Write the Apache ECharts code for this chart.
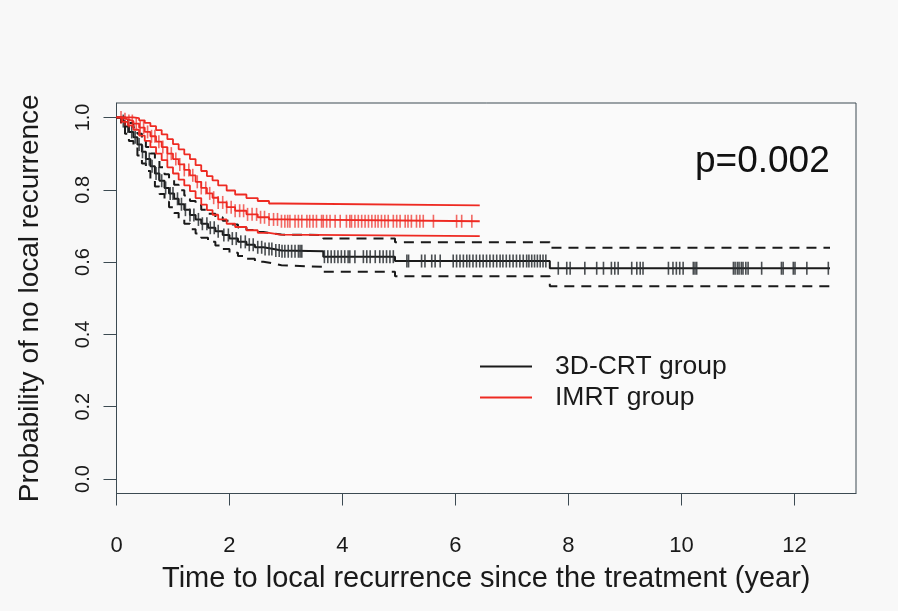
<!DOCTYPE html>
<html>
<head>
<meta charset="utf-8">
<script src="https://cdn.jsdelivr.net/npm/echarts@6/dist/echarts.min.js"></script>
<style>
  html, body { margin: 0; padding: 0; background: #f8f8f8; }
  #chart { width: 898px; height: 611px; }
</style>
</head>
<body>
<div id="chart"></div>
<script>
// Kaplan-Meier estimates of local-recurrence-free probability by treatment group

// 3D-CRT group: step times (years), survival estimate and 95% band
const crtTime  = [0, 0.08, 0.15, 0.22, 0.30, 0.37, 0.45, 0.52, 0.60, 0.68, 0.76, 0.85, 0.93, 1.02, 1.10, 1.20, 1.30, 1.40, 1.50, 1.62, 1.75, 1.88, 2.00, 2.15, 2.30, 2.45, 2.60, 2.78, 2.92, 3.66, 4.93, 7.67, 12.63];
const crtSurv  = [1.000, 0.990, 0.975, 0.960, 0.945, 0.925, 0.905, 0.885, 0.865, 0.845, 0.825, 0.805, 0.790, 0.775, 0.760, 0.745, 0.730, 0.718, 0.706, 0.695, 0.685, 0.675, 0.665, 0.656, 0.648, 0.641, 0.636, 0.632, 0.630, 0.615, 0.603, 0.583, 0.583];
const crtUpper = [1.000, 1.000, 0.995, 0.985, 0.972, 0.955, 0.937, 0.918, 0.900, 0.881, 0.862, 0.843, 0.828, 0.814, 0.799, 0.784, 0.769, 0.757, 0.745, 0.734, 0.724, 0.714, 0.704, 0.696, 0.689, 0.683, 0.679, 0.676, 0.675, 0.665, 0.655, 0.640, 0.640];
const crtLower = [1.000, 0.975, 0.955, 0.935, 0.917, 0.895, 0.873, 0.852, 0.830, 0.809, 0.788, 0.767, 0.752, 0.736, 0.721, 0.706, 0.691, 0.679, 0.667, 0.656, 0.646, 0.636, 0.626, 0.617, 0.609, 0.601, 0.596, 0.591, 0.587, 0.573, 0.561, 0.533, 0.533];
// 3D-CRT censoring times (years)
const crtCensor = [0.12, 0.20, 0.27, 0.33, 0.40, 0.46, 0.52, 0.58, 0.63, 0.70, 0.75, 0.80, 0.87, 0.95, 1.00, 1.08, 1.15, 1.22, 1.30, 1.37, 1.45, 1.52, 1.60, 1.66, 1.73, 1.80, 1.90, 1.98, 2.05, 2.12, 2.20, 2.28, 2.35, 2.42, 2.50, 2.57, 2.63, 2.70, 2.75, 2.82, 2.88,
  2.93, 2.98, 3.04, 3.10, 3.16, 3.22, 3.25, 3.28, 3.68, 3.74, 3.80, 3.86, 3.92, 3.98, 4.04, 4.10, 4.13, 4.22, 4.37, 4.43, 4.49, 4.58, 4.66, 4.72, 4.78, 4.84, 4.90,
  5.14, 5.17, 5.40, 5.46, 5.58, 5.64, 5.73, 5.96, 6.02, 6.08, 6.14, 6.20, 6.25, 6.31, 6.37, 6.43, 6.49, 6.55, 6.61, 6.67, 6.73, 6.79, 6.84, 6.90, 6.96, 7.02, 7.08, 7.14, 7.20, 7.26, 7.30, 7.35, 7.40, 7.45, 7.50, 7.55, 7.60,
  7.82, 7.97, 8.03, 8.29, 8.50, 8.62, 8.76, 8.82, 8.88, 9.12, 9.21, 9.27, 9.32, 9.77, 9.85, 9.91, 9.97, 10.03, 10.21, 10.24, 10.27, 10.92, 10.95, 10.99, 11.02, 11.06, 11.09, 11.14, 11.18, 11.42, 11.77, 11.80, 11.98, 12.01, 12.22, 12.60];

// IMRT group: step times (years), survival estimate and 95% band
const imrtTime  = [0, 0.10, 0.20, 0.30, 0.40, 0.50, 0.60, 0.70, 0.80, 0.90, 1.00, 1.10, 1.20, 1.30, 1.40, 1.50, 1.60, 1.70, 1.80, 1.95, 2.10, 2.30, 2.50, 2.70, 2.90, 6.43];
const imrtSurv  = [1.000, 0.995, 0.990, 0.983, 0.972, 0.960, 0.948, 0.933, 0.918, 0.900, 0.885, 0.870, 0.855, 0.840, 0.822, 0.805, 0.790, 0.778, 0.765, 0.752, 0.742, 0.732, 0.724, 0.718, 0.713, 0.713];
const imrtUpper = [1.000, 1.000, 1.000, 0.998, 0.992, 0.985, 0.976, 0.965, 0.953, 0.940, 0.926, 0.912, 0.898, 0.885, 0.868, 0.852, 0.838, 0.826, 0.812, 0.798, 0.787, 0.777, 0.769, 0.762, 0.757, 0.757];
const imrtLower = [1.000, 0.988, 0.978, 0.966, 0.950, 0.935, 0.918, 0.900, 0.882, 0.862, 0.845, 0.828, 0.812, 0.796, 0.777, 0.759, 0.744, 0.731, 0.718, 0.706, 0.697, 0.688, 0.681, 0.676, 0.672, 0.672];
// IMRT censoring times (years)
const imrtCensor = [0.08, 0.15, 0.22, 0.28, 0.35, 0.42, 0.48, 0.55, 0.62, 0.68, 0.75, 0.82, 0.90, 0.97, 1.05, 1.12, 1.20, 1.28, 1.35, 1.43, 1.50, 1.58, 1.65, 1.72, 1.80, 1.88, 1.95, 2.03, 2.10, 2.18, 2.25, 2.32, 2.40, 2.48, 2.55, 2.62, 2.70, 2.78, 2.85, 2.92, 2.98, 3.03,
  3.07, 3.16, 3.22, 3.28, 3.37, 3.42, 3.48, 3.54, 3.63, 3.66, 3.72, 3.78, 3.87, 3.96, 4.07, 4.13, 4.16, 4.22, 4.28, 4.34, 4.40, 4.46, 4.52, 4.58, 4.63, 4.69, 4.75, 4.81, 4.90, 4.96, 5.02, 5.11, 5.16, 5.22, 5.31, 5.37, 5.43, 5.61, 6.02, 6.11, 6.29];

// Axis ticks
const xTicks = [0, 2, 4, 6, 8, 10, 12];
const yTicks = [0, 0.2, 0.4, 0.6, 0.8, 1.0];
const pValueText = 'p=0.002';

function pairs(xs, ys) { return xs.map((x, i) => [x, ys[i]]); }
function stepValue(xs, ys, t) {
  let v = ys[0];
  for (let i = 0; i < xs.length; i++) { if (xs[i] <= t) v = ys[i]; }
  return v;
}
function censorPoints(times, xs, ys) { return times.map(t => [t, stepValue(xs, ys, t)]); }

const BLACK = '#1a1a1a';
const RED = '#ee2a22';
const AXIS = '#3c4a52';
const FONT = 'Liberation Sans, Arial, sans-serif';

const chart = echarts.init(document.getElementById('chart'));
chart.setOption({
  animation: false,
  backgroundColor: '#f8f8f8',
  textStyle: { fontFamily: FONT },
  grid: { left: 116.5, right: 42, top: 103, bottom: 117.5, outerBoundsMode: 'none', containLabel: false,
    show: true, borderColor: AXIS, borderWidth: 1, backgroundColor: '#fafafa' },
  xAxis: {
    type: 'value', min: 0, max: 13.09, position: 'bottom',
    name: 'Time to local recurrence since the treatment (year)',
    nameLocation: 'middle', nameGap: 71,
    nameTextStyle: { fontSize: 29, color: '#1a1a1a', fontFamily: FONT },
    axisLine: { show: true, onZero: false, lineStyle: { color: AXIS, width: 1 } },
    axisTick: { show: true, inside: false, length: 12, customValues: xTicks, lineStyle: { color: AXIS } },
    axisLabel: { customValues: xTicks, fontSize: 22, color: '#1a1a1a', margin: 41, fontFamily: FONT },
    splitLine: { show: false }
  },
  yAxis: {
    type: 'value', min: -0.04, max: 1.04,
    name: 'Probability of no local recurrence',
    nameLocation: 'middle', nameGap: 72,
    nameTextStyle: { fontSize: 28, color: '#1a1a1a', fontFamily: FONT },
    axisLine: { show: true, onZero: false, lineStyle: { color: AXIS, width: 1 } },
    axisTick: { show: true, inside: false, length: 13, customValues: yTicks, lineStyle: { color: AXIS } },
    axisLabel: { customValues: yTicks, rotate: 90, fontSize: 20, color: '#1a1a1a', margin: 23, fontFamily: FONT,
      formatter: v => v.toFixed(1) },
    splitLine: { show: false }
  },
  legend: {
    data: ['3D-CRT group', 'IMRT group'],
    orient: 'vertical', left: 475, top: 348,
    icon: 'rect', itemWidth: 52, itemHeight: 2, itemGap: 4,
    textStyle: { fontSize: 26.5, lineHeight: 27, color: '#1a1a1a', fontFamily: FONT, padding: [0, 0, 0, 18] },
    selectedMode: false
  },
  graphic: [{
    type: 'text', x: 695, y: 162,
    style: { text: pValueText, font: '37px ' + FONT, fill: '#111', verticalAlign: 'middle' }
  }],
  series: [
    { name: '3D-CRT upper', type: 'line', step: 'end', symbol: 'none', data: pairs(crtTime, crtUpper),
      lineStyle: { color: BLACK, width: 2, type: [10, 7] }, z: 2 },
    { name: '3D-CRT lower', type: 'line', step: 'end', symbol: 'none', data: pairs(crtTime, crtLower),
      lineStyle: { color: BLACK, width: 2, type: [10, 7] }, z: 2 },
    { name: '3D-CRT group', type: 'line', step: 'end', symbol: 'none', data: pairs(crtTime, crtSurv),
      color: BLACK, lineStyle: { color: BLACK, width: 2 }, z: 3 },
    { name: '3D-CRT censored', type: 'scatter', symbol: 'rect', symbolSize: [1.6, 13],
      data: censorPoints(crtCensor, crtTime, crtSurv), itemStyle: { color: '#2a2f33', opacity: 0.85 }, z: 3 },
    { name: 'IMRT upper', type: 'line', step: 'end', symbol: 'none', data: pairs(imrtTime, imrtUpper),
      lineStyle: { color: RED, width: 1.8 }, z: 4 },
    { name: 'IMRT lower', type: 'line', step: 'end', symbol: 'none', data: pairs(imrtTime, imrtLower),
      lineStyle: { color: RED, width: 1.8 }, z: 4 },
    { name: 'IMRT group', type: 'line', step: 'end', symbol: 'none', data: pairs(imrtTime, imrtSurv),
      color: RED, lineStyle: { color: RED, width: 1.8 }, z: 5 },
    { name: 'IMRT censored', type: 'scatter', symbol: 'rect', symbolSize: [1.6, 13],
      data: censorPoints(imrtCensor, imrtTime, imrtSurv), itemStyle: { color: RED, opacity: 0.7 }, z: 5 }
  ]
});
</script>
</body>
</html>
